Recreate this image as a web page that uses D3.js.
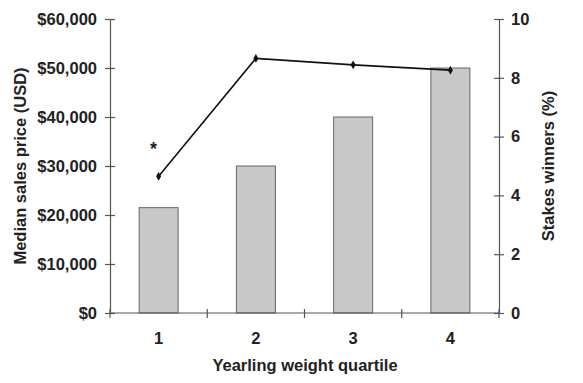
<!DOCTYPE html>
<html><head><meta charset="utf-8">
<script src="https://cdn.jsdelivr.net/npm/d3@7"></script>
<style>body{margin:0;background:#fff}svg{display:block}text{font-family:"Liberation Sans",Arial,sans-serif;font-weight:bold;fill:#222}</style>
</head><body><svg id="c" width="583" height="383"></svg>
<script>
const categories = ["1","2","3","4"];
const medianPrice = [21500, 30000, 40000, 50000];
const stakesWinners = [4.65, 8.66, 8.44, 8.26];
const priceTicks = [0,10000,20000,30000,40000,50000,60000];
const pctTicks = [0,2,4,6,8,10];

const svg = d3.select("#c");
const L = 110, R = 499, T = 19, B = 313;
const x = d3.scaleBand().domain(categories).range([L, R]).paddingInner(0).paddingOuter(0);
const yL = d3.scaleLinear().domain([0, 60000]).range([B, T]);
const yR = d3.scaleLinear().domain([0, 10]).range([B, T]);
const axisColor = "#555";
const fs = 16.5;

// bars
const bw = 39;
svg.append("g").selectAll("rect").data(medianPrice).join("rect")
  .attr("x", (d,i) => x(categories[i]) + x.bandwidth()/2 - bw/2)
  .attr("y", d => yL(d))
  .attr("width", bw)
  .attr("height", d => B - yL(d))
  .attr("fill", "#c8c8c8").attr("stroke", "#666").attr("stroke-width", 1);

// left axis
const gl = svg.append("g").attr("transform", `translate(${L},0)`)
  .call(d3.axisLeft(yL).tickValues(priceTicks).tickFormat(d => "$" + d3.format(",")(d)).tickSizeInner(5).tickSizeOuter(0));
gl.selectAll(".tick line").attr("x1", 5);
// right axis
const gr = svg.append("g").attr("transform", `translate(${R},0)`)
  .call(d3.axisRight(yR).tickValues(pctTicks).tickSizeInner(5).tickSizeOuter(0));
gr.selectAll(".tick line").attr("x1", -5);
// bottom axis
const boundaries = [0,1,2,3,4].map(i => L + i * x.bandwidth());
svg.append("line").attr("x1", L).attr("x2", R).attr("y1", B).attr("y2", B).attr("stroke", axisColor).attr("stroke-width", 1.2);
svg.append("g").selectAll("line").data(boundaries).join("line")
  .attr("x1", d => d).attr("x2", d => d).attr("y1", B - 4).attr("y2", B + 5)
  .attr("stroke", axisColor).attr("stroke-width", 1.2);
svg.append("g").selectAll("text").data(categories).join("text")
  .attr("x", d => x(d) + x.bandwidth()/2).attr("y", 344)
  .attr("text-anchor", "middle").attr("font-size", fs).text(d => d);

[gl, gr].forEach(g => {
  g.select(".domain").attr("stroke", axisColor).attr("stroke-width", 1.2);
  g.selectAll(".tick line").attr("stroke", axisColor).attr("stroke-width", 1.2);
  g.selectAll(".tick text").attr("font-size", fs).attr("font-family", "Liberation Sans, Arial, sans-serif").attr("font-weight", "bold").attr("fill", "#222");
});
gl.selectAll(".tick text").attr("x", -13);
gr.selectAll(".tick text").attr("x", 12);

// line
const line = d3.line().x((d,i) => x(categories[i]) + x.bandwidth()/2).y(d => yR(d));
svg.append("path").datum(stakesWinners).attr("d", line).attr("fill", "none").attr("stroke", "#111").attr("stroke-width", 1.6);
svg.append("g").selectAll("path").data(stakesWinners).join("path")
  .attr("transform", (d,i) => `translate(${x(categories[i]) + x.bandwidth()/2},${yR(d)})`)
  .attr("d", d3.symbol(d3.symbolDiamond, 22)).attr("fill", "#111");

// asterisk
svg.append("text").attr("x", x(categories[0]) + x.bandwidth()/2 - 5).attr("y", 155)
  .attr("text-anchor", "middle").attr("font-size", 18).text("*");

// axis titles
svg.append("text").attr("x", 305).attr("y", 371).attr("text-anchor", "middle").attr("font-size", fs).text("Yearling weight quartile");
svg.append("text").attr("transform", "translate(26,166) rotate(-90)").attr("text-anchor", "middle").attr("font-size", fs).text("Median sales price (USD)");
svg.append("text").attr("transform", "translate(554,166) rotate(-90)").attr("text-anchor", "middle").attr("font-size", fs).text("Stakes winners (%)");
</script></body></html>
